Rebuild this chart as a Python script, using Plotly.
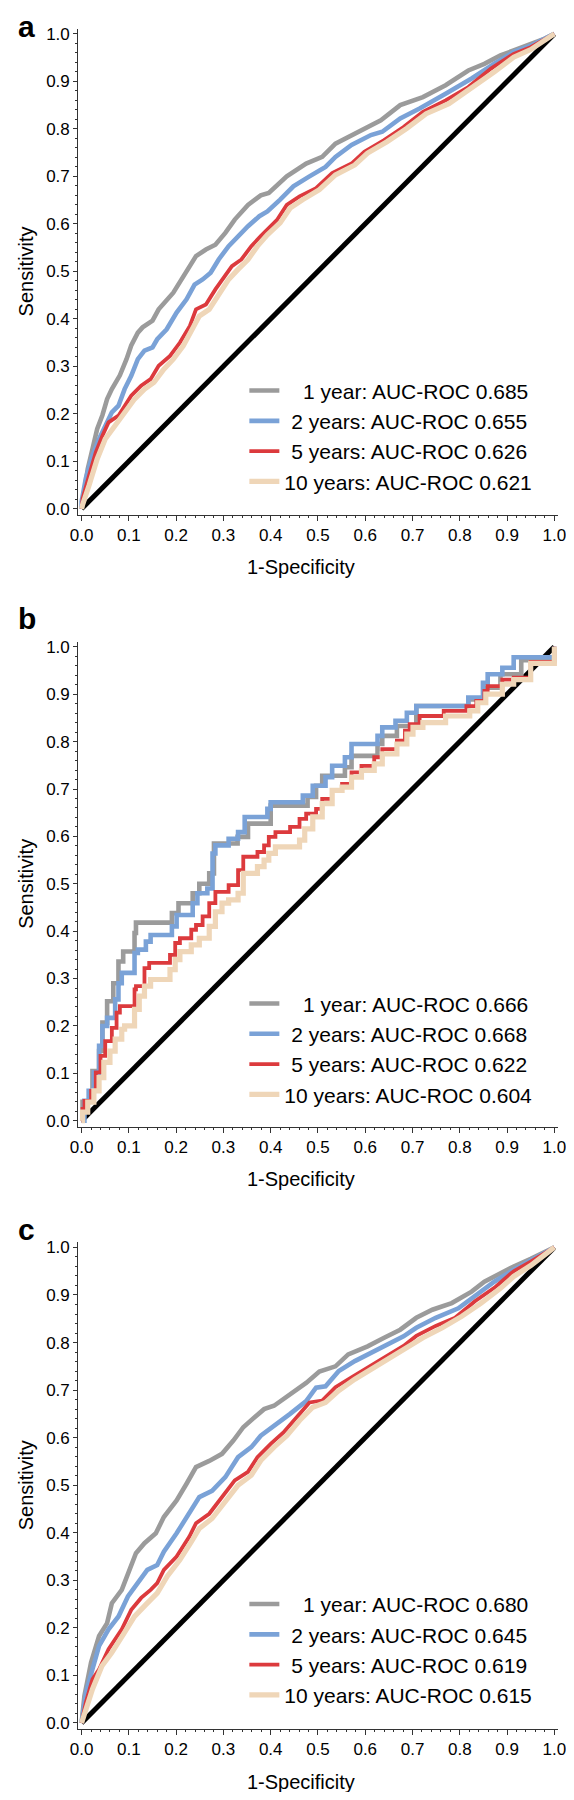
import plotly.graph_objects as go

# ---------------- data ----------------
LABELS = ["1 year", "2 years", "5 years", "10 years"]
AUC_A = ["0.685", "0.655", "0.626", "0.621"]
AUC_B = ["0.666", "0.668", "0.622", "0.604"]
AUC_C = ["0.680", "0.645", "0.619", "0.615"]

# Panel a
A_FPR_1Y = [0, 0.002, 0.008, 0.013, 0.023, 0.033, 0.044, 0.054, 0.064, 0.081, 0.095, 0.105, 0.119, 0.129, 0.15, 0.163, 0.194, 0.211, 0.229, 0.242, 0.263, 0.283, 0.304, 0.324, 0.352, 0.379, 0.396, 0.434, 0.475, 0.509, 0.537, 0.564, 0.598, 0.633, 0.674, 0.722, 0.77, 0.818, 0.852, 0.886, 0.914, 0.95, 0.98, 1.0]
A_TPR_1Y = [0, 0.015, 0.06, 0.084, 0.126, 0.168, 0.197, 0.231, 0.252, 0.281, 0.315, 0.344, 0.371, 0.382, 0.396, 0.42, 0.455, 0.483, 0.511, 0.532, 0.546, 0.556, 0.581, 0.609, 0.64, 0.66, 0.665, 0.7, 0.727, 0.741, 0.769, 0.783, 0.801, 0.818, 0.85, 0.867, 0.892, 0.923, 0.937, 0.955, 0.965, 0.978, 0.99, 1.0]
A_FPR_2Y = [0, 0.0, 0.009, 0.023, 0.037, 0.05, 0.064, 0.078, 0.091, 0.105, 0.119, 0.133, 0.15, 0.16, 0.18, 0.201, 0.222, 0.239, 0.256, 0.273, 0.29, 0.311, 0.331, 0.352, 0.376, 0.393, 0.42, 0.448, 0.482, 0.516, 0.537, 0.571, 0.612, 0.636, 0.674, 0.715, 0.77, 0.825, 0.873, 0.914, 0.95, 1.0]
A_TPR_2Y = [0, 0.015, 0.064, 0.112, 0.147, 0.175, 0.203, 0.217, 0.252, 0.28, 0.315, 0.333, 0.34, 0.357, 0.378, 0.413, 0.441, 0.472, 0.483, 0.497, 0.525, 0.553, 0.574, 0.595, 0.616, 0.626, 0.651, 0.679, 0.7, 0.72, 0.741, 0.766, 0.787, 0.794, 0.822, 0.843, 0.874, 0.906, 0.937, 0.962, 0.975, 1.0]
A_FPR_5Y = [0, 0.002, 0.016, 0.03, 0.044, 0.057, 0.078, 0.091, 0.105, 0.126, 0.146, 0.163, 0.187, 0.208, 0.229, 0.242, 0.263, 0.283, 0.304, 0.318, 0.338, 0.359, 0.379, 0.414, 0.434, 0.461, 0.496, 0.53, 0.571, 0.598, 0.639, 0.681, 0.722, 0.77, 0.818, 0.866, 0.914, 0.95, 1.0]
A_TPR_5Y = [0, 0.021, 0.071, 0.119, 0.154, 0.182, 0.196, 0.217, 0.238, 0.259, 0.273, 0.301, 0.322, 0.35, 0.385, 0.42, 0.43, 0.462, 0.493, 0.511, 0.525, 0.553, 0.574, 0.609, 0.64, 0.658, 0.675, 0.707, 0.727, 0.752, 0.776, 0.804, 0.836, 0.86, 0.888, 0.927, 0.958, 0.972, 1.0]
A_FPR_10Y = [0, 0.002, 0.016, 0.033, 0.05, 0.071, 0.091, 0.112, 0.133, 0.153, 0.174, 0.194, 0.215, 0.232, 0.249, 0.27, 0.29, 0.311, 0.331, 0.352, 0.372, 0.393, 0.42, 0.441, 0.468, 0.503, 0.537, 0.578, 0.605, 0.646, 0.688, 0.729, 0.777, 0.825, 0.873, 0.914, 0.95, 1.0]
A_TPR_10Y = [0, 0.008, 0.05, 0.105, 0.147, 0.175, 0.203, 0.231, 0.252, 0.266, 0.294, 0.315, 0.343, 0.375, 0.406, 0.42, 0.451, 0.483, 0.504, 0.525, 0.553, 0.577, 0.602, 0.633, 0.651, 0.672, 0.703, 0.724, 0.749, 0.773, 0.801, 0.832, 0.853, 0.885, 0.92, 0.951, 0.967, 1.0]

# Panel b (step curves)
B_FPR_1Y = [0, 0.002, 0.023, 0.037, 0.044, 0.054, 0.067, 0.078, 0.088, 0.112, 0.115, 0.191, 0.205, 0.235, 0.249, 0.27, 0.28, 0.33, 0.352, 0.4, 0.478, 0.496, 0.509, 0.557, 0.571, 0.626, 0.636, 0.667, 0.708, 0.818, 0.852, 0.886, 0.93, 1.0]
B_TPR_1Y = [0, 0.04, 0.105, 0.147, 0.207, 0.252, 0.29, 0.336, 0.357, 0.396, 0.418, 0.438, 0.459, 0.48, 0.5, 0.522, 0.585, 0.599, 0.627, 0.665, 0.683, 0.707, 0.728, 0.746, 0.77, 0.795, 0.812, 0.833, 0.875, 0.889, 0.914, 0.942, 0.972, 1.0]
B_FPR_2Y = [0, 0.006, 0.015, 0.026, 0.037, 0.044, 0.054, 0.071, 0.078, 0.085, 0.112, 0.119, 0.136, 0.146, 0.191, 0.201, 0.235, 0.245, 0.266, 0.277, 0.283, 0.311, 0.331, 0.345, 0.393, 0.4, 0.468, 0.489, 0.516, 0.53, 0.557, 0.571, 0.626, 0.636, 0.664, 0.688, 0.708, 0.818, 0.849, 0.859, 0.89, 0.914, 1.0]
B_TPR_2Y = [0, 0.042, 0.063, 0.102, 0.158, 0.2, 0.217, 0.256, 0.29, 0.312, 0.354, 0.361, 0.378, 0.392, 0.41, 0.434, 0.459, 0.48, 0.49, 0.564, 0.581, 0.595, 0.609, 0.641, 0.658, 0.672, 0.686, 0.707, 0.725, 0.749, 0.767, 0.795, 0.812, 0.83, 0.844, 0.861, 0.875, 0.893, 0.924, 0.942, 0.956, 0.978, 1.0]
B_FPR_5Y = [0, 0.002, 0.006, 0.02, 0.03, 0.04, 0.05, 0.064, 0.074, 0.081, 0.112, 0.115, 0.133, 0.143, 0.187, 0.198, 0.208, 0.232, 0.242, 0.256, 0.27, 0.283, 0.311, 0.331, 0.342, 0.372, 0.386, 0.396, 0.41, 0.441, 0.461, 0.475, 0.496, 0.509, 0.53, 0.551, 0.571, 0.592, 0.619, 0.636, 0.667, 0.684, 0.694, 0.715, 0.766, 0.814, 0.835, 0.852, 0.859, 0.89, 0.914, 0.95, 1.0]
B_TPR_5Y = [0, 0.025, 0.042, 0.063, 0.102, 0.137, 0.168, 0.196, 0.228, 0.242, 0.277, 0.284, 0.322, 0.333, 0.35, 0.375, 0.385, 0.403, 0.413, 0.431, 0.459, 0.483, 0.497, 0.529, 0.557, 0.567, 0.581, 0.599, 0.609, 0.62, 0.637, 0.648, 0.658, 0.679, 0.697, 0.711, 0.735, 0.749, 0.767, 0.784, 0.802, 0.823, 0.837, 0.854, 0.865, 0.875, 0.886, 0.907, 0.917, 0.931, 0.935, 0.968, 1.0]
B_FPR_10Y = [0, 0.002, 0.013, 0.026, 0.037, 0.047, 0.06, 0.071, 0.085, 0.091, 0.112, 0.122, 0.133, 0.146, 0.187, 0.198, 0.208, 0.232, 0.249, 0.27, 0.283, 0.297, 0.311, 0.331, 0.342, 0.372, 0.386, 0.396, 0.41, 0.461, 0.472, 0.489, 0.509, 0.53, 0.551, 0.571, 0.592, 0.619, 0.636, 0.667, 0.688, 0.701, 0.722, 0.77, 0.821, 0.838, 0.855, 0.89, 0.914, 0.95, 1.0]
B_TPR_10Y = [0, 0.018, 0.039, 0.063, 0.091, 0.123, 0.147, 0.172, 0.193, 0.2, 0.235, 0.263, 0.284, 0.298, 0.319, 0.34, 0.357, 0.371, 0.385, 0.41, 0.441, 0.459, 0.466, 0.48, 0.522, 0.536, 0.55, 0.564, 0.578, 0.592, 0.616, 0.641, 0.669, 0.697, 0.704, 0.725, 0.739, 0.753, 0.774, 0.795, 0.816, 0.83, 0.84, 0.854, 0.865, 0.882, 0.9, 0.921, 0.931, 0.965, 1.0]

# Panel c
C_FPR_1Y = [0, 0.006, 0.02, 0.037, 0.054, 0.064, 0.085, 0.102, 0.115, 0.133, 0.157, 0.174, 0.201, 0.222, 0.242, 0.27, 0.297, 0.321, 0.342, 0.366, 0.386, 0.407, 0.441, 0.475, 0.503, 0.537, 0.564, 0.605, 0.64, 0.674, 0.708, 0.742, 0.783, 0.825, 0.852, 0.886, 0.914, 0.95, 0.98, 1.0]
C_TPR_1Y = [0, 0.057, 0.127, 0.183, 0.21, 0.252, 0.28, 0.322, 0.357, 0.378, 0.399, 0.433, 0.468, 0.503, 0.538, 0.551, 0.566, 0.594, 0.622, 0.643, 0.66, 0.667, 0.69, 0.715, 0.739, 0.75, 0.775, 0.792, 0.81, 0.827, 0.852, 0.869, 0.883, 0.907, 0.928, 0.946, 0.96, 0.976, 0.99, 1.0]
C_FPR_2Y = [0, 0.009, 0.023, 0.037, 0.057, 0.078, 0.098, 0.119, 0.139, 0.16, 0.174, 0.201, 0.228, 0.249, 0.276, 0.304, 0.331, 0.359, 0.379, 0.414, 0.441, 0.475, 0.496, 0.516, 0.544, 0.578, 0.619, 0.646, 0.681, 0.708, 0.749, 0.797, 0.832, 0.873, 0.914, 0.95, 1.0]
C_TPR_2Y = [0, 0.063, 0.113, 0.162, 0.197, 0.224, 0.266, 0.294, 0.322, 0.332, 0.36, 0.399, 0.44, 0.475, 0.488, 0.517, 0.559, 0.58, 0.604, 0.629, 0.65, 0.677, 0.705, 0.708, 0.74, 0.761, 0.782, 0.796, 0.813, 0.831, 0.852, 0.872, 0.897, 0.928, 0.953, 0.972, 1.0]
C_FPR_5Y = [0, 0.009, 0.023, 0.037, 0.057, 0.085, 0.105, 0.126, 0.146, 0.16, 0.174, 0.201, 0.228, 0.242, 0.27, 0.297, 0.324, 0.352, 0.372, 0.4, 0.427, 0.455, 0.482, 0.509, 0.537, 0.571, 0.612, 0.646, 0.681, 0.708, 0.749, 0.79, 0.832, 0.873, 0.914, 0.95, 1.0]
C_TPR_5Y = [0, 0.043, 0.092, 0.113, 0.155, 0.197, 0.238, 0.263, 0.28, 0.294, 0.322, 0.35, 0.392, 0.42, 0.44, 0.475, 0.51, 0.528, 0.559, 0.587, 0.611, 0.643, 0.674, 0.678, 0.706, 0.727, 0.752, 0.772, 0.793, 0.814, 0.835, 0.852, 0.887, 0.915, 0.95, 0.97, 1.0]
C_FPR_10Y = [0, 0.009, 0.023, 0.043, 0.064, 0.088, 0.112, 0.139, 0.16, 0.181, 0.208, 0.232, 0.249, 0.276, 0.304, 0.331, 0.359, 0.379, 0.407, 0.434, 0.461, 0.489, 0.516, 0.544, 0.578, 0.619, 0.653, 0.688, 0.722, 0.763, 0.804, 0.845, 0.886, 0.914, 0.95, 1.0]
C_TPR_10Y = [0, 0.029, 0.071, 0.12, 0.148, 0.186, 0.224, 0.252, 0.273, 0.308, 0.343, 0.381, 0.409, 0.43, 0.465, 0.5, 0.521, 0.552, 0.58, 0.604, 0.636, 0.664, 0.674, 0.699, 0.723, 0.748, 0.768, 0.789, 0.81, 0.831, 0.855, 0.883, 0.914, 0.939, 0.962, 1.0]

DIAG_X = [0, 1]
DIAG_Y = [0, 1]

PANEL_LETTERS = ["a", "b", "c"]
X_TITLE = "1-Specificity"
Y_TITLE = "Sensitivity"

# ---------------- style / layout (page pixel targets) ----------------
COLORS = ["#9b9b9b", "#7aa2d7", "#dc3a3d", "#efd6b8"]
WIDTHS = [4.6, 4.6, 3.8, 5.2]
PADS = ["\u2007\u2004", "\u2004", "\u2004", ""]
FONT = "Liberation Sans, Arial, Helvetica, sans-serif"

PAGE_W, PAGE_H = 574, 1800
OFF = 8                     # default body margin of the html page
FW, FH = PAGE_W - OFF, PAGE_H - 2 * OFF


def px(xp):
    return (xp - OFF) / FW


def py(yp):
    return 1 - (yp - OFF) / FH


XL, XR = 72, 566          # x-axis line extent (page px)
X0, X1 = 75.5, 562        # page px of x=0 and x=1
PANELS = [  # axis top, y=1 px, y=0 px, axis bottom  (page px)
    (25, 30, 507, 513),
    (640.7, 645.7, 1121.7, 1127.7),
    (1244, 1249, 1726.7, 1732.7),
]
LETTER_TOP = [OFF - 4, 598.5, 1212.5]   # top of panel-letter text boxes (page px)

data = [
    ([(A_FPR_1Y, A_TPR_1Y), (A_FPR_2Y, A_TPR_2Y), (A_FPR_5Y, A_TPR_5Y), (A_FPR_10Y, A_TPR_10Y)], AUC_A, "linear"),
    ([(B_FPR_1Y, B_TPR_1Y), (B_FPR_2Y, B_TPR_2Y), (B_FPR_5Y, B_TPR_5Y), (B_FPR_10Y, B_TPR_10Y)], AUC_B, "hv"),
    ([(C_FPR_1Y, C_TPR_1Y), (C_FPR_2Y, C_TPR_2Y), (C_FPR_5Y, C_TPR_5Y), (C_FPR_10Y, C_TPR_10Y)], AUC_C, "linear"),
]

fig = go.Figure()
layout = dict(
    width=FW, height=FH, autosize=False,
    margin=dict(l=0, r=0, t=0, b=0, pad=0),
    paper_bgcolor="white", plot_bgcolor="white",
    font=dict(family=FONT, color="black"),
    showlegend=True,
)
annotations = []

xr = [(XL - X0) / (X1 - X0), 1 + (XR - X1) / (X1 - X0)]
xdom = [px(XL), min(1.0, px(XR))]

for i, (series, aucs, shape) in enumerate(data):
    sfx = "" if i == 0 else str(i + 1)
    xa, ya = "x" + sfx, "y" + sfx
    leg = "legend" + sfx
    top, y1, y0, bot = PANELS[i]
    # diagonal reference
    fig.add_trace(go.Scatter(x=DIAG_X, y=DIAG_Y, mode="lines", xaxis=xa, yaxis=ya,
                             line=dict(color="black", width=5), showlegend=False,
                             hoverinfo="skip"))
    for j, (fx, ty) in enumerate(series):
        fig.add_trace(go.Scatter(
            x=fx, y=ty, mode="lines", xaxis=xa, yaxis=ya,
            line=dict(color=COLORS[j], width=WIDTHS[j], shape=shape),
            name=f"{PADS[j]}{LABELS[j]}: AUC-ROC {aucs[j]}", legend=leg,
            legendgroup=f"g{i}{j}"))
    ppu = y0 - y1
    yr = [-(bot - y0) / ppu, 1 + (y1 - top) / ppu]
    ydom = [py(bot), py(top)]
    common = dict(showgrid=False, zeroline=False, showline=True, linecolor="#333333",
                  linewidth=1, ticks="outside", tickcolor="#333333", tickwidth=1,
                  tick0=0, dtick=0.1, tickformat=".1f", fixedrange=True,
                  ticklabeloverflow="allow",
                  tickfont=dict(size=17, family=FONT, color="black"),
                  minor=dict(ticks="outside", dtick=0.02, tick0=0, ticklen=2,
                             tickcolor="#333333", tickwidth=1))
    layout["xaxis" + sfx] = dict(common, domain=xdom, range=xr, anchor=ya, ticklen=5)
    layout["yaxis" + sfx] = dict(common, domain=ydom, range=yr, anchor=xa, ticklen=4)
    layout[leg] = dict(x=px(243), xanchor="left", y=py(y1 + 338), yanchor="top",
                       bgcolor="rgba(0,0,0,0)", borderwidth=0,
                       font=dict(size=21, family=FONT, color="black"),
                       traceorder="normal", tracegroupgap=1.4)
    annotations.append(dict(text=f"<b>{PANEL_LETTERS[i]}</b>", xref="paper", yref="paper",
                            x=0, xanchor="left", y=py(LETTER_TOP[i]), yanchor="top",
                            showarrow=False, font=dict(size=30, family=FONT, color="black")))
    annotations.append(dict(text=X_TITLE, xref="paper", yref="paper",
                            x=px(244), xanchor="left", y=py(y0 + 59), yanchor="middle",
                            showarrow=False, font=dict(size=20, family=FONT, color="black")))
    annotations.append(dict(text=Y_TITLE, xref="paper", yref="paper", textangle=-90,
                            x=px(OFF - 3), xanchor="left", y=py((y0 + y1) / 2),
                            yanchor="middle", showarrow=False,
                            font=dict(size=20, family=FONT, color="black")))

layout["annotations"] = annotations
fig.update_layout(**layout)
fig.write_html("out.html")
